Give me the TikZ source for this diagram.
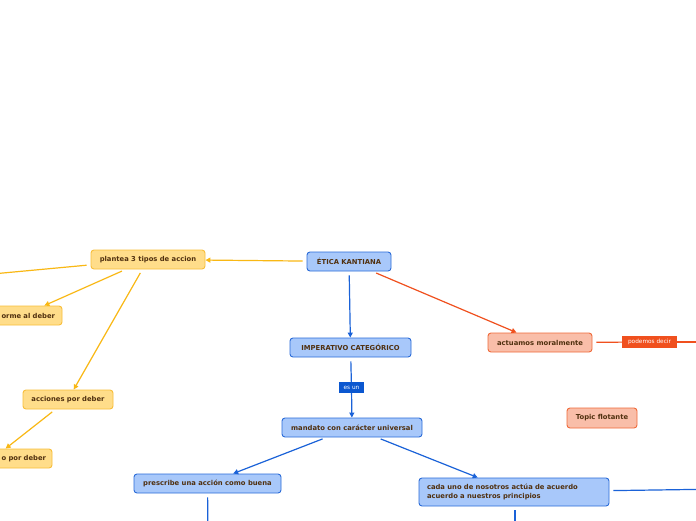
\documentclass[tikz,border=0pt]{standalone}
\usepackage{fontspec}
\setmainfont{DejaVu Sans}
\usetikzlibrary{arrows.meta}
\definecolor{bfill}{HTML}{A8C8FA}
\definecolor{bdraw}{HTML}{2A6BD8}
\definecolor{bline}{HTML}{1A62D8}
\definecolor{yfill}{HTML}{FFDD8A}
\definecolor{ydraw}{HTML}{F8BE3A}
\definecolor{yline}{HTML}{F9B814}
\definecolor{ofill}{HTML}{F9BEA9}
\definecolor{odraw}{HTML}{F06A3A}
\definecolor{oline}{HTML}{F0501E}
\definecolor{txt}{HTML}{50300F}
\definecolor{lblue}{HTML}{0B57D0}
\begin{document}
\begin{tikzpicture}[x=1pt,y=-1pt,
  topic/.style={rounded corners=3pt, line width=0.9pt, minimum height=19pt,
    inner xsep=5pt, inner ysep=0pt, font=\fontsize{6.8}{8.6}\selectfont\bfseries, text=txt},
  bt/.style={topic, fill=bfill, draw=bdraw},
  yt/.style={topic, fill=yfill, draw=ydraw},
  ot/.style={topic, fill=ofill, draw=odraw},
  lbl/.style={inner xsep=2pt, inner ysep=0pt, minimum height=11pt, text=white,
    font=\fontsize{5.8}{7}\selectfont},
  conn/.style={line width=1.2pt, shorten <=4pt, -{Triangle[length=5pt,width=5pt]}},
  plain/.style={line width=1.2pt, shorten <=4pt},
]
\useasboundingbox (0,0) rectangle (696,520);
\fill[white] (0,0) rectangle (696,520);

% nodes
\node[bt, minimum width=84pt] (etica) at (349,261.5) {ÉTICA KANTIANA};
\node[yt, minimum width=114pt] (plantea) at (148,259.5) {plantea 3 tipos de accion};
\node[yt, minimum width=80pt, text width=66pt, align=right] (conf) at (22,315.5) {orme al deber};
\node[yt, minimum width=90pt] (accdeb) at (68,399.5) {acciones por deber};
\node[yt, minimum width=118pt, text width=106pt, align=right] (hecho) at (-7,458.5) {o por deber};
\node[bt, minimum width=121pt] (imp) at (350.5,347.5) {IMPERATIVO CATEGÓRICO};
\node[lbl, fill=lblue, minimum width=25pt] (esun) at (351.5,387.5) {es un};
\node[bt, minimum width=140pt] (mand) at (352,427.5) {mandato con carácter universal};
\node[bt, minimum width=147pt] (presc) at (207.5,483.5) {prescribe una acción como buena};
\node[bt, minimum width=190pt, minimum height=28pt, text width=174pt, align=left, inner xsep=8pt] (cada) at (514,492)
  {cada uno de nosotros actúa de acuerdo\\acuerdo a nuestros principios};
\node[ot, minimum width=104pt] (actu) at (540,342.5) {actuamos moralmente};
\node[lbl, fill=oline, minimum width=55pt, minimum height=12pt] (podem) at (649.5,342) {podemos decir};
\node[ot, minimum width=70pt, minimum height=20pt] (flot) at (602,418) {Topic flotante};

% off-page ends
\coordinate (offl) at (-40,277);
\coordinate (offp) at (208,540);
\coordinate (offc) at (515,540);
\coordinate (offr) at (760,488.5);
\coordinate (offo) at (740,342);

% yellow connectors
\draw[conn, yline] (etica) -- (plantea);
\draw[plain, yline] (plantea) -- (offl);
\draw[conn, yline] (plantea) -- (conf);
\draw[conn, yline] (plantea) -- (accdeb);
\draw[conn, yline] (accdeb) -- (hecho);

% blue connectors
\draw[conn, bline] (etica) -- (imp);
\draw[plain, bline] (imp) -- (esun);
\draw[conn, bline, shorten <=0pt] (esun) -- (mand);
\draw[conn, bline] (mand) -- (presc);
\draw[conn, bline] (mand) -- (cada);
\draw[plain, bline] (presc) -- (offp);
\draw[plain, bline] (cada.south) ++(1,0) coordinate (cs) (cs) -- (offc);
\draw[plain, bline] (cada) -- (offr);

% orange connectors
\draw[conn, oline] (etica) -- (actu);
\draw[plain, oline] (actu) -- (podem);
\draw[plain, oline, shorten <=0pt] (podem) -- (offo);
\end{tikzpicture}
\end{document}
